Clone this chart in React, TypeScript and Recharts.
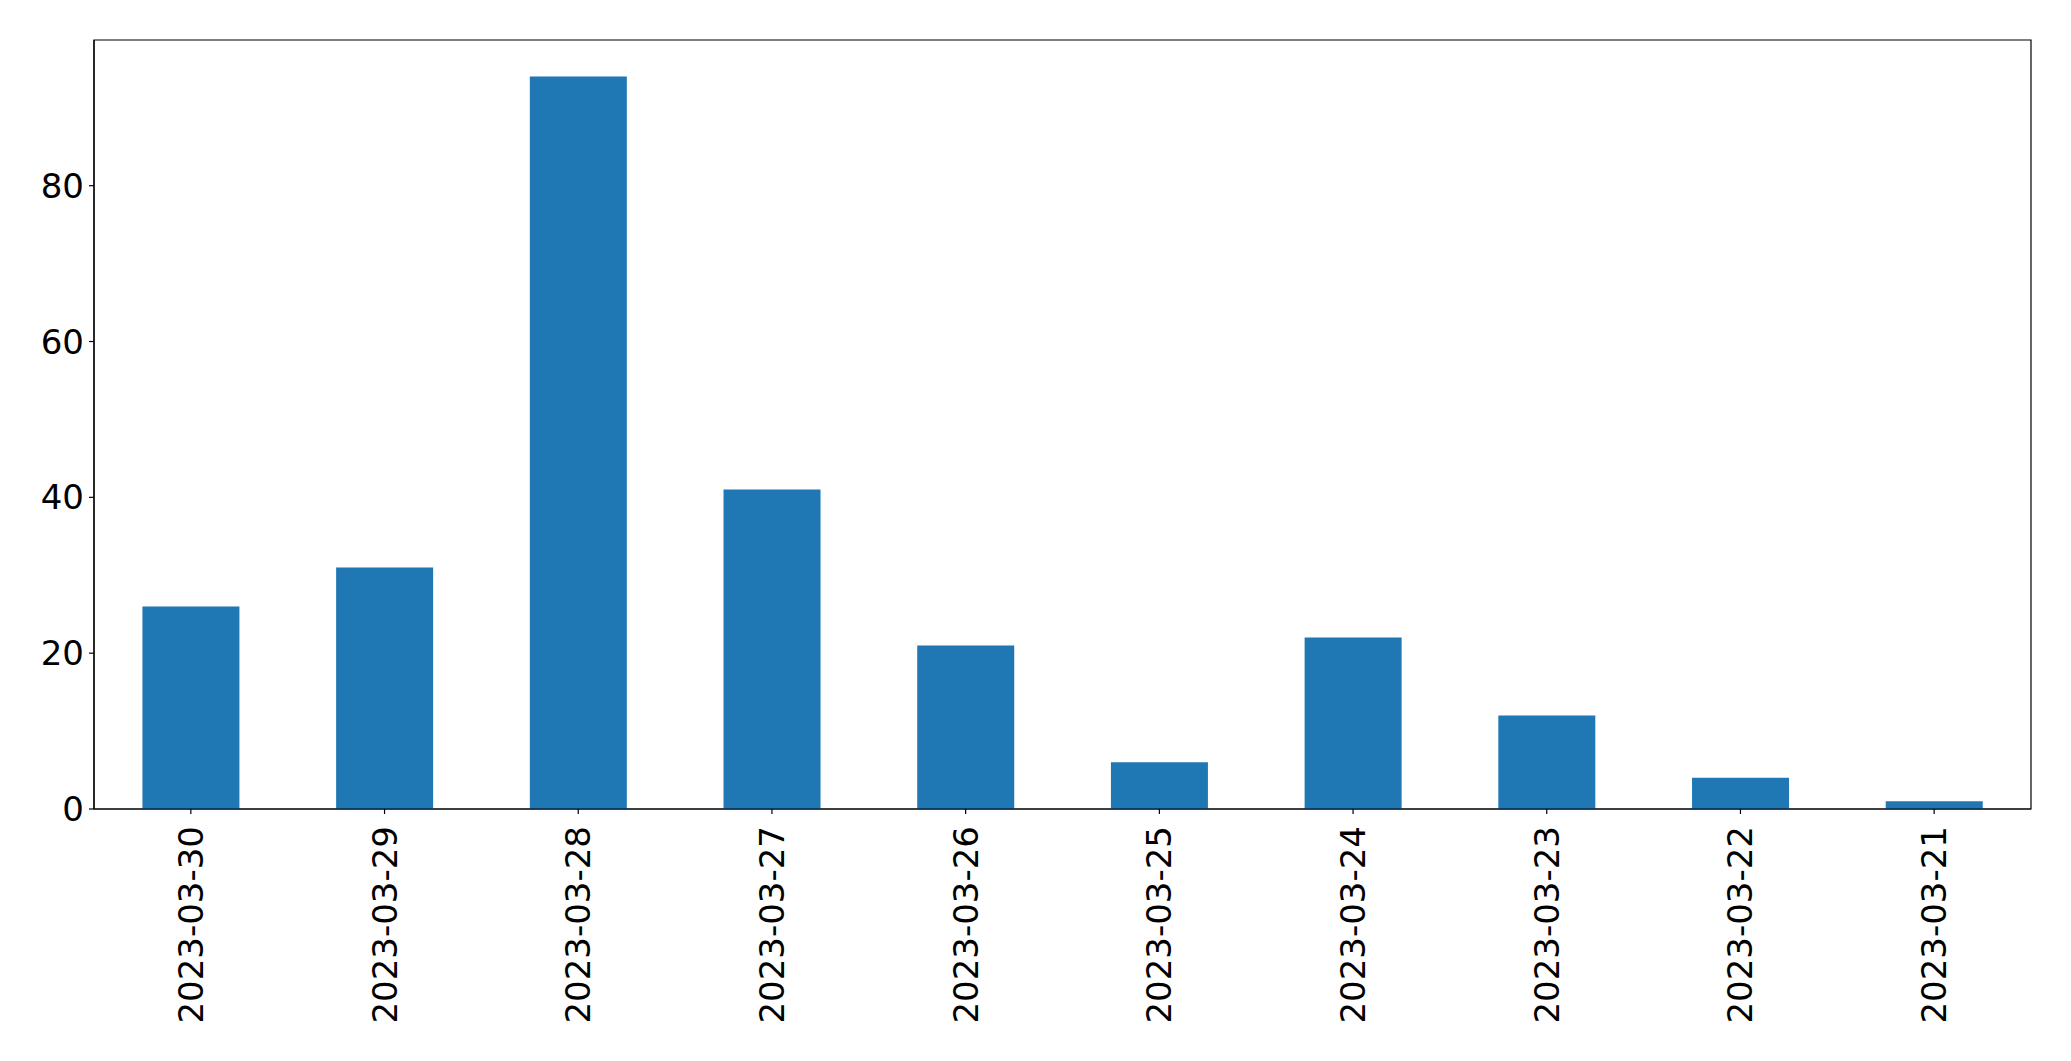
import { BarChart, Bar, XAxis, YAxis, ReferenceArea } from 'recharts'

const dates = [
  '2023-03-30', '2023-03-29', '2023-03-28', '2023-03-27', '2023-03-26',
  '2023-03-25', '2023-03-24', '2023-03-23', '2023-03-22', '2023-03-21',
]
const counts = [26, 31, 94, 41, 21, 6, 22, 12, 4, 1]
const yTicks = [0, 20, 40, 60, 80]
const yMax = 98.7

const data = dates.map((d, i) => ({ date: d, count: counts[i] }))

const FONT = 'DejaVu Sans, sans-serif'

function DateTick({ x, y, payload }: any) {
  return (
    <g transform={`translate(${x},${y + 10})`}>
      <text
        transform="rotate(-90)"
        textAnchor="end"
        dy={12}
        fontSize={34}
        fontFamily={FONT}
        fill="#000"
      >
        {payload.value}
      </text>
    </g>
  )
}

export default function App() {
  return (
    <div style={{ position: 'absolute', left: 0, top: 0, background: '#fff' }}>
      <BarChart
        width={2071}
        height={1061}
        data={data}
        margin={{ top: 40, right: 40, left: 0, bottom: 0 }}
        barCategoryGap="25%"
      >
        <XAxis
          dataKey="date"
          height={252}
          interval={0}
          tick={<DateTick />}
          tickSize={5}
          axisLine={{ stroke: '#000', strokeWidth: 1.2 }}
          tickLine={{ stroke: '#000', strokeWidth: 1.2 }}
        />
        <YAxis
          width={94}
          domain={[0, yMax]}
          ticks={yTicks}
          allowDataOverflow
          tickSize={5}
          tickMargin={5}
          tick={{ fontSize: 34, fontFamily: FONT, fill: '#000' }}
          axisLine={{ stroke: '#000', strokeWidth: 1.2 }}
          tickLine={{ stroke: '#000', strokeWidth: 1.2 }}
        />
        <Bar dataKey="count" fill="#1f77b4" isAnimationActive={false} />
        <ReferenceArea
          x1={dates[0]}
          x2={dates[dates.length - 1]}
          y1={0}
          y2={yMax}
          fill="none"
          stroke="#000"
          strokeWidth={1.2}
          ifOverflow="visible"
        />
      </BarChart>
    </div>
  )
}
